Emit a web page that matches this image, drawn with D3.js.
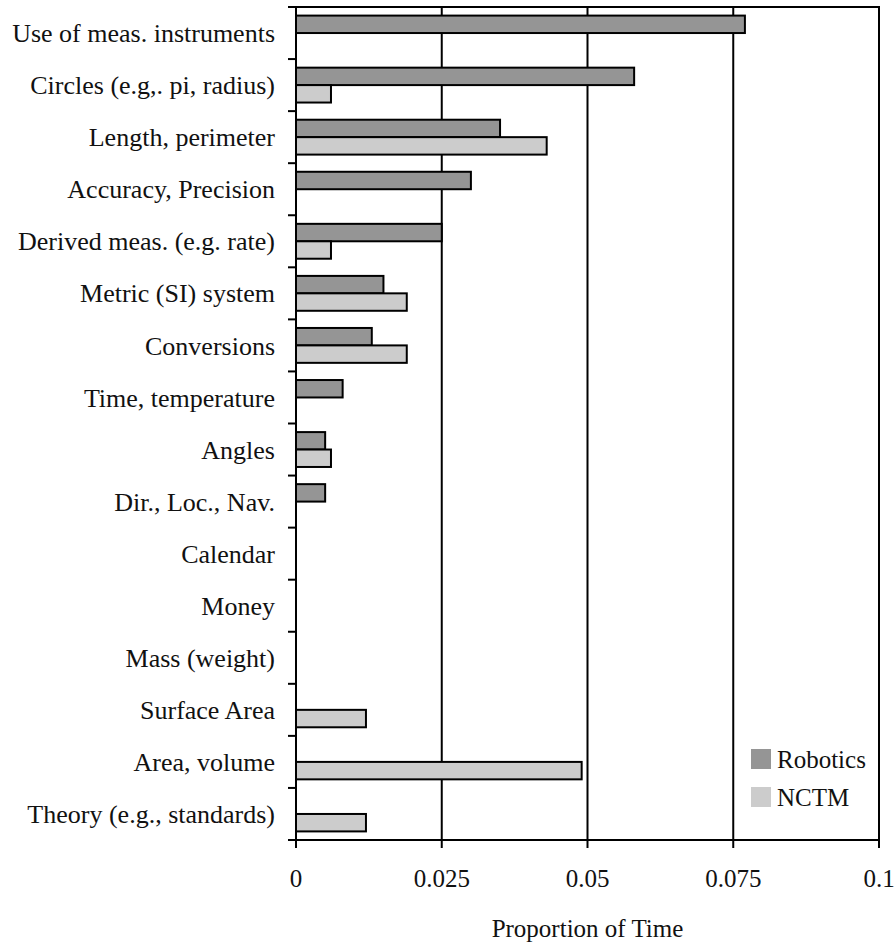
<!DOCTYPE html>
<html>
<head>
<meta charset="utf-8">
<script src="https://cdn.jsdelivr.net/npm/d3@7"></script>
<style>
  html, body { margin: 0; background: #fff; overflow: hidden; }
  svg { display: block; }
  svg text { font-family: 'Liberation Serif', 'Times New Roman', Times, serif; fill: #111; }
</style>
</head>
<body>
<div id="chart"></div>
<script>
// topics, top to bottom
var topics = ["Use of meas. instruments", "Circles (e.g,. pi, radius)", "Length, perimeter",
              "Accuracy, Precision", "Derived meas. (e.g. rate)", "Metric (SI) system",
              "Conversions", "Time, temperature", "Angles", "Dir., Loc., Nav.", "Calendar",
              "Money", "Mass (weight)", "Surface Area", "Area, volume", "Theory (e.g., standards)"];
var robotics = [0.077, 0.058, 0.035, 0.030, 0.025, 0.015, 0.013, 0.008, 0.005, 0.005, 0, 0, 0, 0, 0, 0];
var nctm     = [0, 0.006, 0.043, 0, 0.006, 0.019, 0.019, 0, 0.006, 0, 0, 0, 0, 0.012, 0.049, 0.012];
var seriesNames = ["Robotics", "NCTM"];
var xTicks = [0, 0.025, 0.05, 0.075, 0.1];
var xTickText = ["0", "0.025", "0.05", "0.075", "0.1"];

var width = 895, height = 944;
var margin = {top: 7, right: 16, bottom: 104, left: 296};
var plotW = width - margin.left - margin.right,
    plotH = height - margin.top - margin.bottom;

var colors = d3.scaleOrdinal().domain(seriesNames).range(["#959595", "#cccccc"]);

var svg = d3.select("#chart").append("svg")
    .attr("width", width).attr("height", height);
var g = svg.append("g").attr("transform", "translate(" + margin.left + "," + margin.top + ")");

var x = d3.scaleLinear().domain([0, 0.1]).range([0, plotW]);
var y = d3.scaleBand().domain(topics).range([0, plotH]).paddingInner(0.33).paddingOuter(0.165);
var ySub = d3.scaleBand().domain(seriesNames).range([0, y.bandwidth()]);

// plot frame
g.append("rect")
    .attr("x", 0).attr("y", 0).attr("width", x(0.1)).attr("height", plotH)
    .style("fill", "none").style("stroke", "#000").style("stroke-width", 2);

// grid lines
g.selectAll(".grid").data(xTicks.slice(1, -1)).enter().append("line")
    .attr("x1", function(d) { return x(d); }).attr("x2", function(d) { return x(d); })
    .attr("y1", 0).attr("y2", plotH)
    .style("stroke", "#000").style("stroke-width", 2);

// bars
var rows = topics.map(function(t, i) { return {topic: t, vals: [robotics[i], nctm[i]]}; });
var grp = g.selectAll(".row").data(rows).enter().append("g")
    .attr("transform", function(d) { return "translate(0," + y(d.topic) + ")"; });
grp.selectAll("rect")
    .data(function(d) { return d.vals.map(function(v, j) { return {name: seriesNames[j], v: v}; })
        .filter(function(e) { return e.v > 0; }); })
    .enter().append("rect")
    .attr("x", 0)
    .attr("y", function(d) { return ySub(d.name); })
    .attr("width", function(d) { return x(d.v); })
    .attr("height", ySub.bandwidth())
    .style("fill", function(d) { return colors(d.name); })
    .style("stroke", "#000").style("stroke-width", 2);

// y axis: ticks at row boundaries
var step = plotH / topics.length;
g.selectAll(".ytick").data(d3.range(topics.length + 1)).enter().append("line")
    .attr("x1", -8).attr("x2", 0)
    .attr("y1", function(i) { return i * step; }).attr("y2", function(i) { return i * step; })
    .style("stroke", "#000").style("stroke-width", 2);
g.selectAll(".ylab").data(topics).enter().append("text")
    .attr("x", -21)
    .attr("y", function(d, i) { return (i + 0.5) * step; })
    .attr("dy", "0.35em")
    .attr("text-anchor", "end")
    .style("font-size", "26px")
    .text(function(d) { return d; });

// x axis ticks and labels
g.selectAll(".xtick").data(xTicks).enter().append("line")
    .attr("x1", function(d) { return x(d); }).attr("x2", function(d) { return x(d); })
    .attr("y1", plotH).attr("y2", plotH + 8)
    .style("stroke", "#000").style("stroke-width", 2);
g.selectAll(".xlab").data(xTicks).enter().append("text")
    .attr("x", function(d) { return x(d); })
    .attr("y", plotH + 47)
    .attr("text-anchor", "middle")
    .style("font-size", "25px")
    .text(function(d, i) { return xTickText[i]; });
g.append("text")
    .attr("x", x(0.05)).attr("y", plotH + 97)
    .attr("text-anchor", "middle")
    .style("font-size", "25px")
    .text("Proportion of Time");

// legend
var leg = g.selectAll(".leg").data(seriesNames).enter().append("g")
    .attr("transform", function(d, i) { return "translate(" + (751 - margin.left) + "," + (749 - margin.top + i * 38) + ")"; });
leg.append("rect").attr("width", 20).attr("height", 20)
    .style("fill", function(d) { return colors(d); });
leg.append("text").attr("x", 26).attr("y", 10).attr("dy", "0.35em")
    .style("font-size", "25px")
    .text(function(d) { return d; });
</script>
</body>
</html>
